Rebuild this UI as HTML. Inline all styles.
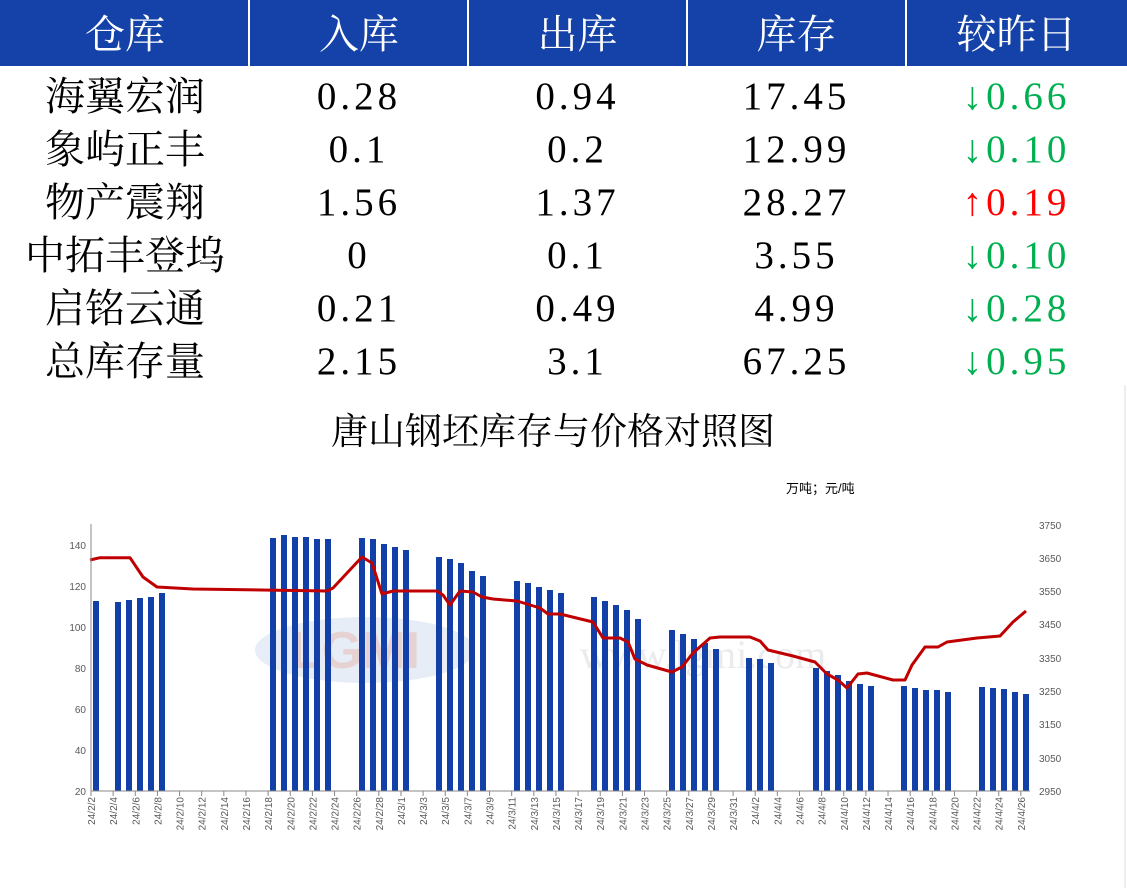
<!DOCTYPE html>
<html><head><meta charset="utf-8"><style>
body{margin:0;width:1127px;height:888px;background:#fff;overflow:hidden;position:relative;font-family:"Liberation Serif","Noto Serif CJK SC",serif}
.hd{position:absolute;left:0;top:0;width:1127px;height:66px;background:#1442a8}
.c{position:absolute;text-align:center;font-size:40px;line-height:53px;white-space:nowrap}
.h{color:#fff;top:5px;line-height:60px}
.vl{position:absolute;top:0;width:2px;height:66px;background:#fff}
.n{letter-spacing:4px;font-size:39px}
.g{color:#00b050}.r{color:#ff0000}
</style></head><body>
<div class="hd"></div>
<div class="vl" style="left:248px"></div><div class="vl" style="left:467px"></div><div class="vl" style="left:686px"></div><div class="vl" style="left:905px"></div>
<div class="c h" style="left:0;width:250px">仓库</div>
<div class="c h" style="left:250px;width:218px">入库</div>
<div class="c h" style="left:468px;width:219px">出库</div>
<div class="c h" style="left:687px;width:219px">库存</div>
<div class="c h" style="left:906px;width:221px">较昨日</div>

<div style="position:absolute;left:0;top:70px;width:1127px">
<div style="position:relative;height:53px"><div class="c" style="left:0;width:250px">海翼宏润</div><div class="c n" style="left:250px;width:218px">0.28</div><div class="c n" style="left:468px;width:219px">0.94</div><div class="c n" style="left:687px;width:219px">17.45</div><div class="c n g" style="left:906px;width:221px">↓0.66</div></div>
<div style="position:relative;height:53px"><div class="c" style="left:0;width:250px">象屿正丰</div><div class="c n" style="left:250px;width:218px">0.1</div><div class="c n" style="left:468px;width:219px">0.2</div><div class="c n" style="left:687px;width:219px">12.99</div><div class="c n g" style="left:906px;width:221px">↓0.10</div></div>
<div style="position:relative;height:53px"><div class="c" style="left:0;width:250px">物产震翔</div><div class="c n" style="left:250px;width:218px">1.56</div><div class="c n" style="left:468px;width:219px">1.37</div><div class="c n" style="left:687px;width:219px">28.27</div><div class="c n r" style="left:906px;width:221px">↑0.19</div></div>
<div style="position:relative;height:53px"><div class="c" style="left:0;width:250px">中拓丰登坞</div><div class="c n" style="left:250px;width:218px">0</div><div class="c n" style="left:468px;width:219px">0.1</div><div class="c n" style="left:687px;width:219px">3.55</div><div class="c n g" style="left:906px;width:221px">↓0.10</div></div>
<div style="position:relative;height:53px"><div class="c" style="left:0;width:250px">启铭云通</div><div class="c n" style="left:250px;width:218px">0.21</div><div class="c n" style="left:468px;width:219px">0.49</div><div class="c n" style="left:687px;width:219px">4.99</div><div class="c n g" style="left:906px;width:221px">↓0.28</div></div>
<div style="position:relative;height:53px"><div class="c" style="left:0;width:250px">总库存量</div><div class="c n" style="left:250px;width:218px">2.15</div><div class="c n" style="left:468px;width:219px">3.1</div><div class="c n" style="left:687px;width:219px">67.25</div><div class="c n g" style="left:906px;width:221px">↓0.95</div></div>
</div>

<svg style="position:absolute;left:0;top:0" width="1127" height="888" font-family="Liberation Sans, sans-serif">
<line x1="1125" y1="385" x2="1125" y2="888" stroke="#ddd"/>
<text x="553" y="444" text-anchor="middle" font-size="37" font-family="Liberation Serif, Noto Serif CJK SC, serif">唐山钢坯库存与价格对照图</text>
<text x="786" y="493" font-size="13" font-family="Liberation Sans, Noto Sans CJK SC, sans-serif">万吨；元/吨</text>
<ellipse cx="365" cy="650" rx="110" ry="33" fill="#dbe6f2" opacity="0.7"/>
<text x="290" y="668" font-size="52" font-weight="bold" fill="#e6d2d2">LGMI</text>
<text x="580" y="668" font-size="40" fill="#ebebeb" font-family="Liberation Serif,serif">www.lgmi.com</text>
<g fill="#1240a8">
<rect x="93" y="601" width="6" height="190"/><rect x="115" y="602" width="6" height="189"/><rect x="126" y="600" width="6" height="191"/><rect x="137" y="598" width="6" height="193"/><rect x="148" y="597" width="6" height="194"/><rect x="159" y="593" width="6" height="198"/>
<rect x="270" y="538" width="6" height="253"/><rect x="281" y="535" width="6" height="256"/><rect x="292" y="537" width="6" height="254"/><rect x="303" y="537" width="6" height="254"/><rect x="314" y="539" width="6" height="252"/><rect x="325" y="539" width="6" height="252"/>
<rect x="359" y="538" width="6" height="253"/><rect x="370" y="539" width="6" height="252"/><rect x="381" y="544" width="6" height="247"/><rect x="392" y="547" width="6" height="244"/><rect x="403" y="550" width="6" height="241"/>
<rect x="436" y="557" width="6" height="234"/><rect x="447" y="559" width="6" height="232"/><rect x="458" y="563" width="6" height="228"/><rect x="469" y="571" width="6" height="220"/><rect x="480" y="576" width="6" height="215"/>
<rect x="514" y="581" width="6" height="210"/><rect x="525" y="583" width="6" height="208"/><rect x="536" y="587" width="6" height="204"/><rect x="547" y="590" width="6" height="201"/><rect x="558" y="593" width="6" height="198"/>
<rect x="591" y="597" width="6" height="194"/><rect x="602" y="601" width="6" height="190"/><rect x="613" y="605" width="6" height="186"/><rect x="624" y="610" width="6" height="181"/><rect x="635" y="619" width="6" height="172"/>
<rect x="669" y="630" width="6" height="161"/><rect x="680" y="634" width="6" height="157"/><rect x="691" y="639" width="6" height="152"/><rect x="702" y="643" width="6" height="148"/><rect x="713" y="649" width="6" height="142"/>
<rect x="746" y="658" width="6" height="133"/><rect x="757" y="659" width="6" height="132"/><rect x="768" y="663" width="6" height="128"/>
<rect x="813" y="668" width="6" height="123"/><rect x="824" y="671" width="6" height="120"/><rect x="835" y="675" width="6" height="116"/><rect x="846" y="681" width="6" height="110"/><rect x="857" y="684" width="6" height="107"/><rect x="868" y="686" width="6" height="105"/>
<rect x="901" y="686" width="6" height="105"/><rect x="912" y="688" width="6" height="103"/><rect x="923" y="690" width="6" height="101"/><rect x="934" y="690" width="6" height="101"/><rect x="945" y="692" width="6" height="99"/>
<rect x="979" y="687" width="6" height="104"/><rect x="990" y="688" width="6" height="103"/><rect x="1001" y="689" width="6" height="102"/><rect x="1012" y="692" width="6" height="99"/><rect x="1023" y="694" width="6" height="97"/>
</g>
<polyline fill="none" stroke="#c00000" stroke-width="3" stroke-linejoin="round" points="90,560 100,557.7 130,557.7 143,577 157,587 193,589 327,591 333,588 362,557 372,563 382,594 393,591 437,591 443,595 450,605 460,591 473,592 482,597 493,599 517,601 540,608 548,614 560,614 593,622 603,638 620,638 628,642 635,659 647,665 672,672 682,667 693,653 710,638 720,637 750,637 760,641 768,650 793,656 815,662 827,674 838,680 847,688 858,674 867,673 893,680 905,680 912,665 925,647 938,647 947,642 977,638 1000,636 1013,622 1026,611"/>
<g stroke="#888" fill="none"><line x1="91" y1="524" x2="91" y2="791"/><line x1="91" y1="791" x2="1030" y2="791"/></g>
<g font-size="10" fill="#595959" text-anchor="end">
<text x="86" y="795">20</text><text x="86" y="754">40</text><text x="86" y="713">60</text><text x="86" y="672">80</text><text x="86" y="631">100</text><text x="86" y="590">120</text><text x="86" y="549">140</text>
</g>
<g font-size="10" fill="#595959">
<text x="1039" y="795">2950</text><text x="1039" y="762">3050</text><text x="1039" y="728">3150</text><text x="1039" y="695">3250</text><text x="1039" y="662">3350</text><text x="1039" y="628">3450</text><text x="1039" y="595">3550</text><text x="1039" y="562">3650</text><text x="1039" y="529">3750</text>
</g>
<g id="xl" font-size="10" fill="#595959" text-anchor="end"></g>
<g id="tk" stroke="#888"></g>
</svg>
<script>
var labs=[];for(var d=2;d<=28;d+=2)labs.push('24/2/'+d);for(d=1;d<=31;d+=2)labs.push('24/3/'+d);for(d=2;d<=26;d+=2)labs.push('24/4/'+d);
var g=document.getElementById('xl'),t=document.getElementById('tk'),ns='http://www.w3.org/2000/svg';
labs.forEach(function(l,k){var x=91+k*22.14;var e=document.createElementNS(ns,'text');e.setAttribute('transform','translate('+(x+4)+',797) rotate(-90)');e.textContent=l;g.appendChild(e);
var ln=document.createElementNS(ns,'line');ln.setAttribute('x1',x);ln.setAttribute('x2',x);ln.setAttribute('y1',791);ln.setAttribute('y2',796);t.appendChild(ln);});
</script>
</body></html>
